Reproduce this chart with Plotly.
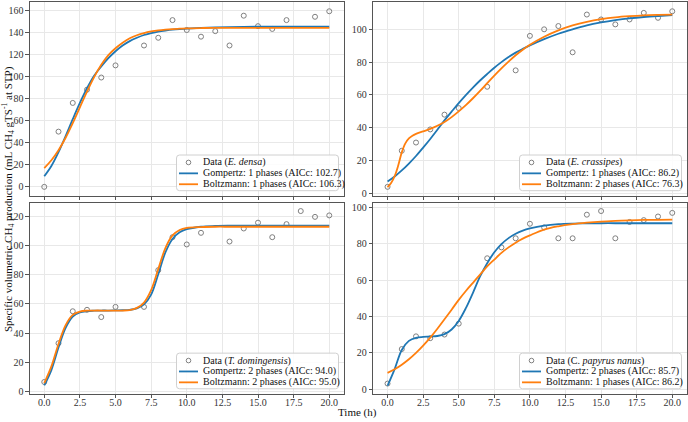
import plotly.graph_objects as go

# ---------------- data ----------------
time_densa = [0, 1, 2, 3, 4, 5, 7, 8, 9, 10, 11, 12, 13, 14, 15, 16, 17, 19, 20]
data_densa = [0, 50, 76, 88, 99, 110, 128, 135, 151, 142, 136, 141, 128, 155, 145.5, 143, 151, 154, 159]

time_crassipes = [0, 1, 2, 3, 4, 5, 7, 9, 10, 11, 12, 13, 14, 15, 16, 17, 18, 19, 20]
data_crassipes = [4, 26, 31, 39, 48, 52, 65, 75, 96, 100, 102, 86, 109, 106, 103, 106, 110, 107, 111]

time_domingensis = [0, 1, 2, 3, 4, 5, 7, 8, 9, 10, 11, 13, 14, 15, 16, 17, 18, 19, 20]
data_domingensis = [6.3, 33, 55, 56, 51, 58, 58, 83.3, 106, 101, 109, 103, 112, 116, 106, 115, 124, 120, 121]

time_papyrus = [0, 1, 2, 3, 4, 5, 7, 8, 9, 10, 11, 12, 13, 14, 15, 16, 17, 18, 19, 20]
data_papyrus = [3, 22, 29, 28, 30, 36, 72, 78, 83, 91, 89, 83, 83, 96, 98, 83, 92, 93, 95, 97]

# fitted curves
t_fit = [0, 0.5, 1, 1.5, 2, 2.5, 3, 3.5, 4, 4.5, 5, 5.5, 6, 6.5, 7, 7.5, 8, 8.5, 9, 9.5, 10,
         11, 12, 13, 14, 15, 16, 17, 18, 19, 20]

gomp_densa = [9.6, 18.9, 31.4, 46.0, 61.3, 76.0, 89.3, 100.6, 109.0, 116.5, 122.8, 128.0, 132.0, 135.0,
              137.5, 139.2, 140.6, 141.6, 142.4, 142.9, 143.2, 143.9, 144.4, 144.7, 144.9, 145, 145, 145,
              145, 145, 145]
boltz_densa = [17.0, 24.1, 33.2, 44.5, 57.7, 72.0, 86.2, 99.4, 110.5, 119.3, 125.5, 130.5, 134.5, 137.3,
               139.3, 140.7, 141.7, 142.4, 142.9, 143.2, 143.5, 143.8, 144, 144, 144, 144, 144, 144,
               144, 144, 144]

gomp_crassipes = [7.2, 10.3, 14.0, 18.2, 22.8, 27.9, 33.2, 38.8, 44.5, 49.8, 55.0, 59.9, 64.5, 68.8,
                  72.8, 76.6, 80.0, 83.1, 85.8, 88.1, 90.2, 94.0, 97.3, 100.0, 102.4, 104.2, 105.6,
                  106.7, 107.5, 108.1, 108.6]
t_fit_fine = [0, 0.25, 0.5, 0.75, 1, 1.25, 1.5, 1.75, 2, 2.5, 3, 3.5, 4, 4.5, 5, 5.5, 6, 6.5, 7, 7.5,
              8, 8.5, 9, 9.5, 10, 11, 12, 13, 14, 15, 16, 17, 18, 19, 20]
boltz_crassipes = [3.8, 6.3, 10.5, 17.0, 25.0, 30.5, 33.5, 35.2, 36.3, 37.8, 39.3, 41.2, 43.5, 46.5,
                   50.0, 53.8, 58.0, 62.5, 67.2, 71.8, 76.2, 80.3, 84.2, 87.6, 90.6, 95.5, 99.4,
                   102.4, 104.6, 106.2, 107.3, 108.0, 108.5, 108.8, 109.0]

gomp_domingensis = [3.9, 14.5, 30.0, 43.5, 51.3, 54.2, 55.1, 55.4, 55.5, 55.5, 55.6, 55.7, 56.0, 57.0,
                    59.8, 66.5, 80.5, 95.5, 104.8, 109.4, 111.5, 113.2, 113.7, 113.9, 114, 114, 114,
                    114, 114, 114, 114]
boltz_domingensis = [5.5, 17.0, 32.5, 45.5, 52.5, 54.8, 55.4, 55.5, 55.5, 55.5, 55.5, 55.5, 55.8, 57.3,
                     61.0, 69.5, 84.0, 98.5, 107.2, 111.0, 112.4, 113.0, 113.2, 113.2, 113.2, 113.2,
                     113.2, 113.2, 113.2, 113.2, 113.2]

gomp_papyrus = [1.8, 11.0, 21.5, 26.5, 28.2, 28.7, 28.9, 29.2, 30.2, 32.8, 37.5, 44.5, 53.0, 62.0,
                69.3, 75.3, 79.8, 83.1, 85.5, 87.2, 88.4, 90.0, 90.8, 91.1, 91.2, 91.3, 91.3, 91.3,
                91.3, 91.3, 91.3]
boltz_papyrus = [8.9, 10.9, 13.4, 16.4, 19.9, 23.9, 28.3, 33.2, 38.4, 43.7, 49.1, 54.0, 58.5, 63.0,
                 67.5, 71.3, 75.0, 78.0, 80.6, 82.8, 84.6, 87.8, 89.6, 90.8, 91.6, 92.2, 92.6, 92.9,
                 93.1, 93.2, 93.3]

legend_data = ["Data (<i>E. densa</i>)", "Data (<i>E. crassipes</i>)",
               "Data (<i>T. domingensis</i>)", "Data (C. <i>papyrus nanus</i>)"]
legend_gomp = ["Gompertz: 1 phases (AICc: 102.7)", "Gompertz: 1 phases (AICc: 86.2)",
               "Gompertz: 2 phases (AICc: 94.0)", "Gompertz: 2 phases (AICc: 85.7)"]
legend_boltz = ["Boltzmann: 1 phases (AICc: 106.3)", "Boltzmann: 2 phases (AICc: 76.3)",
                "Boltzmann: 2 phases (AICc: 95.0)", "Boltzmann: 1 phases (AICc: 86.2)"]

x_ticks = [0, 2.5, 5, 7.5, 10, 12.5, 15, 17.5, 20]
y_ticks = [[0, 20, 40, 60, 80, 100, 120, 140, 160], [0, 20, 40, 60, 80, 100],
           [0, 20, 40, 60, 80, 100, 120], [0, 20, 40, 60, 80, 100]]
y_ranges = [[-7.95, 166.95], [-1.35, 116.35], [-1.8, 129.5], [-2.6, 102.4]]

# ---------------- layout geometry (pixels) ----------------
W, H = 688, 422
FONT = "Liberation Serif"
BLUE, ORANGE, GRAY = "#1f77b4", "#ff7f0e", "#808080"
SPINE = "#555555"

panel_px = [  # x0, x1, ytop, ybottom
    (30, 343.5, 1.5, 196.5),
    (373.3, 686.5, 1.5, 196.5),
    (30, 343.5, 204, 396.5),
    (373.3, 686.5, 204, 396.5),
]


def px(xp):
    return xp / W


def py(yp):
    return 1 - yp / H


fig = go.Figure()

times = [time_densa, time_crassipes, time_domingensis, time_papyrus]
datas = [data_densa, data_crassipes, data_domingensis, data_papyrus]
gomps = [(t_fit, gomp_densa), (t_fit, gomp_crassipes), (t_fit, gomp_domingensis), (t_fit, gomp_papyrus)]
boltzs = [(t_fit, boltz_densa), (t_fit_fine, boltz_crassipes), (t_fit, boltz_domingensis),
          (t_fit, boltz_papyrus)]

for i in range(4):
    sfx = "" if i == 0 else str(i + 1)
    xa, ya = "x" + sfx, "y" + sfx
    fig.add_trace(go.Scatter(x=times[i], y=datas[i], mode="markers", xaxis=xa, yaxis=ya,
                             marker=dict(symbol="circle-open", size=5, color=GRAY,
                                         line=dict(width=1, color=GRAY)),
                             name=legend_data[i], showlegend=False))
    fig.add_trace(go.Scatter(x=gomps[i][0], y=gomps[i][1], mode="lines", xaxis=xa, yaxis=ya,
                             line=dict(color=BLUE, width=1.8, shape="spline"),
                             name=legend_gomp[i], showlegend=False))
    fig.add_trace(go.Scatter(x=boltzs[i][0], y=boltzs[i][1], mode="lines", xaxis=xa, yaxis=ya,
                             line=dict(color=ORANGE, width=1.8, shape="spline"),
                             name=legend_boltz[i], showlegend=False))

axis_common = dict(showgrid=True, gridcolor="#e8e8e8", gridwidth=0.8, showline=True, mirror=True,
                   linecolor=SPINE, linewidth=1.2, ticks="outside", ticklen=3.5, tickwidth=0.8,
                   tickcolor=SPINE, zeroline=False,
                   tickfont=dict(family=FONT, size=10, color="#333333"))

layout = dict(width=W, height=H, margin=dict(l=0, r=0, t=0, b=0),
              paper_bgcolor="white", plot_bgcolor="white", showlegend=False)

shapes, annotations = [], []
for i, (x0, x1, yt, yb) in enumerate(panel_px):
    sfx = "" if i == 0 else str(i + 1)
    layout["xaxis" + sfx] = dict(axis_common, domain=[px(x0), px(x1)], anchor="y" + sfx,
                                 range=[-1, 21], tickvals=x_ticks, tickformat=".1f",
                                 showticklabels=(i >= 2), ticklabelstandoff=-4)
    layout["yaxis" + sfx] = dict(axis_common, domain=[py(yb), py(yt)], anchor="x" + sfx,
                                 range=y_ranges[i], tickvals=y_ticks[i])

    # legend box (lower right)
    lw, lh = 162, 36
    lr, lb = x1 - 5, yb - 5
    ll, ltop = lr - lw, lb - lh
    r = 3
    path = (f"M {px(ll + r)},{py(ltop)} L {px(lr - r)},{py(ltop)} "
            f"Q {px(lr)},{py(ltop)} {px(lr)},{py(ltop + r)} L {px(lr)},{py(lb - r)} "
            f"Q {px(lr)},{py(lb)} {px(lr - r)},{py(lb)} L {px(ll + r)},{py(lb)} "
            f"Q {px(ll)},{py(lb)} {px(ll)},{py(lb - r)} L {px(ll)},{py(ltop + r)} "
            f"Q {px(ll)},{py(ltop)} {px(ll + r)},{py(ltop)} Z")
    shapes.append(dict(type="path", xref="paper", yref="paper", path=path,
                       fillcolor="rgba(255,255,255,0.85)", line=dict(color="#d0d0d0", width=1),
                       layer="above"))
    rows = [ltop + 7.5, ltop + 18.5, ltop + 29.5]
    # marker swatch
    shapes.append(dict(type="circle", xref="paper", yref="paper", xsizemode="pixel",
                       ysizemode="pixel", xanchor=px(ll + 12), yanchor=py(rows[0]),
                       x0=-2.3, x1=2.3, y0=-2.3, y1=2.3, line=dict(color=GRAY, width=1),
                       layer="above"))
    for row, col in ((rows[1], BLUE), (rows[2], ORANGE)):
        shapes.append(dict(type="line", xref="paper", yref="paper", x0=px(ll + 2.5),
                           x1=px(ll + 21.5), y0=py(row), y1=py(row),
                           line=dict(color=col, width=1.8), layer="above"))
    for row, txt in zip(rows, (legend_data[i], legend_gomp[i], legend_boltz[i])):
        annotations.append(dict(text=txt, xref="paper", yref="paper", x=px(ll + 24), y=py(row),
                                xanchor="left", yanchor="middle", showarrow=False,
                                font=dict(family=FONT, size=10, color="#111111")))

annotations.append(dict(
    text="Specific volumetric CH<sub>4</sub> production (mL CH<sub>4</sub> gTS<sup>-1</sup> at STP)",
    xref="paper", yref="paper", x=px(8), y=py(200), textangle=-90, xanchor="center",
    yanchor="middle", showarrow=False, font=dict(family=FONT, size=11, color="#111111")))
annotations.append(dict(text="Time (h)", xref="paper", yref="paper", x=px(357.5), y=0,
                        xanchor="center", yanchor="bottom", yshift=-2, showarrow=False,
                        font=dict(family=FONT, size=11, color="#111111")))

layout["shapes"] = shapes
layout["annotations"] = annotations
fig.update_layout(**layout)
fig.write_html("out.html")
